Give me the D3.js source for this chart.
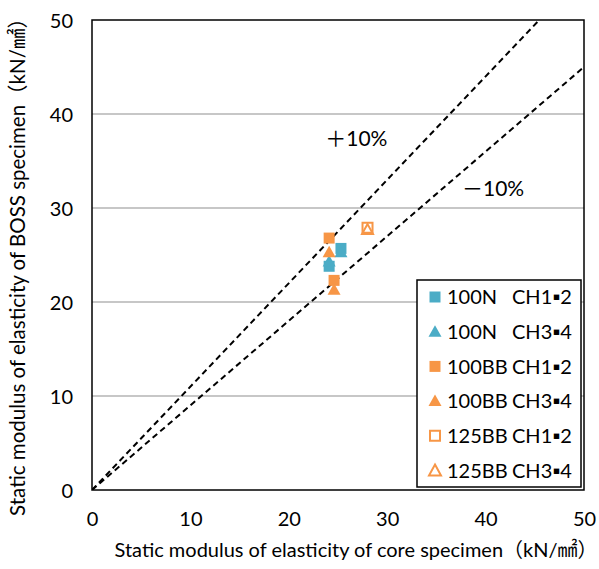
<!DOCTYPE html>
<html>
<head>
<meta charset="utf-8">
<script src="https://cdn.jsdelivr.net/npm/d3@7"></script>
<style>
  body { margin: 0; background: #fff; }
  text { font-family: Lato, "Noto Sans CJK JP", sans-serif; fill: #000; }
</style>
</head>
<body>
<div id="chart"></div>
<script>
// data
var seriesNames = ["100N", "100N", "100BB", "100BB", "125BB", "125BB"];
var seriesParts = ["CH1\u25AA2", "CH3\u25AA4", "CH1\u25AA2", "CH3\u25AA4", "CH1\u25AA2", "CH3\u25AA4"];
var n100ch12X = [25.3, 24.1];
var n100ch12Y = [25.7, 23.8];
var n100ch34X = [25.3, 24.1];
var n100ch34Y = [25.3, 24.3];
var bb100ch12X = [24.1, 24.6];
var bb100ch12Y = [26.8, 22.3];
var bb100ch34X = [24.1, 24.6];
var bb100ch34Y = [25.3, 21.3];
var bb125ch12X = [28.0];
var bb125ch12Y = [27.9];
var bb125ch34X = [28.0];
var bb125ch34Y = [27.7];
var ratioLines = [1.1, 0.9];
var ratioLabels = ["\uFF0B10%", "\uFF0D10%"];
var tickValues = [0, 10, 20, 30, 40, 50];

var svgWidth = 599;
var svgHeight = 569;
var margin = {top: 20, right: 15, bottom: 79, left: 92};
var width = svgWidth - margin.left - margin.right;
var height = svgHeight - margin.top - margin.bottom;

var blue = "#4bacc6";
var orange = "#f79646";

var svg = d3.select("#chart")
  .append("svg")
  .attr("width", svgWidth)
  .attr("height", svgHeight);
var chartGroup = svg.append("g")
  .attr("transform", `translate(${margin.left}, ${margin.top})`);

var x = d3.scaleLinear().domain([0, 50]).range([0, width]);
var y = d3.scaleLinear().domain([0, 50]).range([height, 0]);

// gridlines
chartGroup.append("g")
  .selectAll("line")
  .data(tickValues.slice(1, -1))
  .enter()
  .append("line")
  .attr("x1", 0)
  .attr("x2", width)
  .attr("y1", d => y(d))
  .attr("y2", d => y(d))
  .attr("stroke", "#b4b4b4")
  .attr("stroke-width", 1.5);

// axes (labels only, the frame is drawn below)
var bottomAxis = d3.axisBottom(x).tickValues(tickValues).tickSize(0).tickPadding(22);
var leftAxis = d3.axisLeft(y).tickValues(tickValues).tickSize(0).tickPadding(19);
var xg = chartGroup.append("g")
  .attr("transform", `translate(0, ${height})`)
  .call(bottomAxis);
var yg = chartGroup.append("g").call(leftAxis);
[xg, yg].forEach(function(g) {
  g.select(".domain").remove();
  g.selectAll("text")
    .attr("font-family", "Lato, sans-serif")
    .attr("font-size", "20px")
    .attr("fill", "#000");
});
yg.selectAll("text").attr("dy", "0.36em");

// +/-10% lines
chartGroup.append("clipPath").attr("id", "plotclip")
  .append("rect").attr("width", width).attr("height", height);
chartGroup.append("g")
  .attr("clip-path", "url(#plotclip)")
  .selectAll("line")
  .data(ratioLines)
  .enter()
  .append("line")
  .attr("x1", x(0))
  .attr("y1", y(0))
  .attr("x2", x(50))
  .attr("y2", d => y(50 * d))
  .attr("stroke", "#000")
  .attr("stroke-width", 2)
  .attr("stroke-dasharray", "6,4");

// markers
function markerPath(shape, open) {
  if (open) return shape === "square" ? "M-5,-5H5V5H-5Z" : "M0,-5.5L5.5,4.5L-5.5,4.5Z";
  if (shape === "square") return "M-5.5,-5.5H5.5V5.5H-5.5Z";
  return "M0,-6.5L6.5,5L-6.5,5Z";
}
var series = [
  {xs: n100ch12X, ys: n100ch12Y, shape: "square", color: blue, open: false},
  {xs: n100ch34X, ys: n100ch34Y, shape: "triangle", color: blue, open: false},
  {xs: bb100ch12X, ys: bb100ch12Y, shape: "square", color: orange, open: false},
  {xs: bb100ch34X, ys: bb100ch34Y, shape: "triangle", color: orange, open: false},
  {xs: bb125ch12X, ys: bb125ch12Y, shape: "square", color: orange, open: true},
  {xs: bb125ch34X, ys: bb125ch34Y, shape: "triangle", color: orange, open: true}
];
series.forEach(function(s) {
  chartGroup.append("g")
    .selectAll("path")
    .data(s.xs.map((v, i) => [v, s.ys[i]]))
    .enter()
    .append("path")
    .attr("transform", d => `translate(${x(d[0])}, ${y(d[1])})`)
    .attr("d", markerPath(s.shape, s.open))
    .attr("fill", s.open ? "none" : s.color)
    .attr("stroke", s.color)
    .attr("stroke-width", s.open ? 2 : 0);
});

// frame
chartGroup.append("rect")
  .attr("width", width)
  .attr("height", height)
  .attr("fill", "none")
  .attr("stroke", "#000")
  .attr("stroke-width", 1.5);

// line labels
chartGroup.append("text")
  .attr("x", x(23.7))
  .attr("y", y(36.6))
  .attr("font-size", "21px")
  .text(ratioLabels[0]);
chartGroup.append("text")
  .attr("x", x(37.6))
  .attr("y", y(31.3))
  .attr("font-size", "21px")
  .text(ratioLabels[1]);

// legend
var legend = chartGroup.append("g")
  .attr("transform", `translate(${417 - margin.left}, ${280 - margin.top})`);
legend.append("rect")
  .attr("width", 164)
  .attr("height", 207)
  .attr("fill", "#fff")
  .attr("stroke", "#000")
  .attr("stroke-width", 1.5);
var rows = legend.selectAll("g.row")
  .data(series)
  .enter()
  .append("g")
  .attr("class", "row")
  .attr("transform", (d, i) => `translate(18, ${17 + i * 34.7})`);
rows.append("path")
  .attr("d", d => d.open ? (d.shape === "square" ? "M-5,-5H5V5H-5Z" : "M0,-6L6,5L-6,5Z") : markerPath(d.shape, false))
  .attr("fill", d => d.open ? "none" : d.color)
  .attr("stroke", d => d.color)
  .attr("stroke-width", d => d.open ? 2 : 0);
rows.append("text")
  .attr("x", 12)
  .attr("dy", "0.36em")
  .attr("font-size", "20px")
  .text((d, i) => seriesNames[i]);
rows.append("text")
  .attr("x", 77)
  .attr("dy", "0.36em")
  .attr("font-size", "20px")
  .text((d, i) => seriesParts[i]);

// axis titles, sized to the span they take in the picture
function fitText(sel, target) {
  var len = sel.node().getComputedTextLength();
  sel.attr("font-size", (18 * target / len).toFixed(2) + "px");
}
var xTitle = svg.append("text")
  .attr("x", 356)
  .attr("y", 557)
  .attr("text-anchor", "middle")
  .attr("font-size", "18px")
  .text("Static modulus of elasticity of core specimen\uFF08kN/\u339F\uFF09");
fitText(xTitle, 483);
var yTitle = svg.append("text")
  .attr("transform", "translate(25, 262) rotate(-90)")
  .attr("text-anchor", "middle")
  .attr("font-size", "18px")
  .text("Static modulus of elasticity of BOSS specimen\uFF08kN/\u339F\uFF09");
fitText(yTitle, 508);
</script>
</body>
</html>
